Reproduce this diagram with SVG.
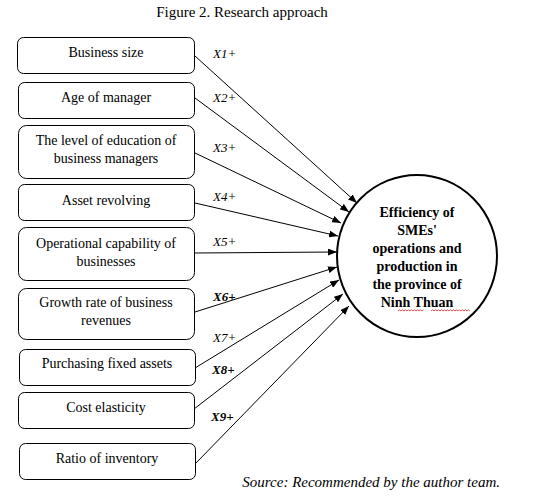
<svg xmlns="http://www.w3.org/2000/svg" width="546" height="502" viewBox="0 0 546 502">
<defs>
<marker id="ah" markerWidth="9" markerHeight="7" refX="9" refY="3.5" orient="auto" markerUnits="userSpaceOnUse">
<path d="M0,0 L9,3.5 L0,7 Z" fill="#000"/>
</marker>
<style>
text{font-family:"Liberation Serif","Times New Roman",serif;fill:#000}
.t{font-size:14px;text-anchor:middle}
.box{fill:#fff;stroke:#000;stroke-width:1}
.lbl{font-size:13px;font-style:italic}
.b{font-weight:bold}
.c{font-size:14px;font-weight:bold;text-anchor:middle}
.con line{stroke:#000;stroke-width:1;marker-end:url(#ah)}
.sq{fill:none;stroke:#e02020;stroke-width:0.8}
</style>
</defs>
<rect width="546" height="502" fill="#fff"/>
<text x="242" y="17" font-size="15" text-anchor="middle">Figure 2. Research approach</text>

<g class="con" id="connectors">
<line x1="195" y1="56" x2="357" y2="203"/>
<line x1="195" y1="98" x2="349" y2="212"/>
<line x1="195" y1="153" x2="341" y2="223"/>
<line x1="195" y1="203" x2="338" y2="236"/>
<line x1="195" y1="253" x2="337" y2="252"/>
<line x1="195" y1="312" x2="337" y2="267"/>
<line x1="195" y1="368" x2="339" y2="280"/>
<line x1="194" y1="409" x2="343" y2="294"/>
<line x1="196" y1="463" x2="349" y2="306"/>
</g>

<g id="labels">
<text x="213" y="58" class="lbl">X1+</text>
<text x="213" y="102" class="lbl">X2+</text>
<text x="213" y="152" class="lbl">X3+</text>
<text x="213" y="201" class="lbl">X4+</text>
<text x="213" y="246" class="lbl">X5+</text>
<text x="213" y="301" class="lbl b">X6+</text>
<text x="213" y="342" class="lbl">X7+</text>
<text x="212" y="374" class="lbl b">X8+</text>
<text x="211" y="421" class="lbl b">X9+</text>
</g>

<g id="n1"><rect class="box" x="17.5" y="37.5" width="177" height="36" rx="6"/><text class="t" x="106" y="57">Business size</text></g>
<g id="n2"><rect class="box" x="18.5" y="82.5" width="176" height="36" rx="6"/><text class="t" x="106" y="102">Age of manager</text></g>
<g id="n3"><rect class="box" x="18.5" y="125.5" width="176" height="53" rx="8"/><text class="t" x="106" y="145">The level of education of</text><text class="t" x="106" y="163">business managers</text></g>
<g id="n4"><rect class="box" x="18.5" y="184.5" width="176" height="36" rx="6"/><text class="t" x="106" y="205">Asset revolving</text></g>
<g id="n5"><rect class="box" x="18.5" y="227.5" width="176" height="53" rx="8"/><text class="t" x="106" y="248">Operational capability of</text><text class="t" x="106" y="266">businesses</text></g>
<g id="n6"><rect class="box" x="18.5" y="288.5" width="176" height="51" rx="8"/><text class="t" x="106" y="307">Growth rate of business</text><text class="t" x="106" y="325">revenues</text></g>
<g id="n7"><rect class="box" x="19.5" y="349.5" width="176" height="36" rx="6"/><text class="t" x="107" y="368">Purchasing fixed assets</text></g>
<g id="n8"><rect class="box" x="18.5" y="392.5" width="176" height="36" rx="6"/><text class="t" x="106" y="412">Cost elasticity</text></g>
<g id="n9"><rect class="box" x="19.5" y="443.5" width="176" height="36" rx="6"/><text class="t" x="107" y="463">Ratio of inventory</text></g>

<g id="target">
<ellipse cx="417" cy="256" rx="80" ry="81" fill="#fff" stroke="#000" stroke-width="2"/>
<text class="c" x="417" y="217">Efficiency of</text>
<text class="c" x="417" y="235">SMEs'</text>
<text class="c" x="417" y="253">operations and</text>
<text class="c" x="417" y="271">production in</text>
<text class="c" x="417" y="289">the province of</text>
<text class="c" x="417" y="307">Ninh Thuan</text>
<path class="sq" d="M398,311 l1.5,-1.2 l1.5,1.2 l1.5,-1.2 l1.5,1.2 l1.5,-1.2 l1.5,1.2 l1.5,-1.2 l1.5,1.2 l1.5,-1.2 l1.5,1.2 l1.5,-1.2 l1.5,1.2 l1.5,-1.2 l1.5,1.2 l1.5,-1.2 l1.5,1.2 l1.5,-1.2"/>
<path class="sq" d="M431,311 l1.5,-1.2 l1.5,1.2 l1.5,-1.2 l1.5,1.2 l1.5,-1.2 l1.5,1.2 l1.5,-1.2 l1.5,1.2 l1.5,-1.2 l1.5,1.2 l1.5,-1.2 l1.5,1.2 l1.5,-1.2 l1.5,1.2 l1.5,-1.2 l1.5,1.2 l1.5,-1.2 l1.5,1.2 l1.5,-1.2 l1.5,1.2 l1.5,-1.2 l1.5,1.2 l1.5,-1.2 l1.5,1.2 l1.5,-1.2 l1.5,1.2"/>
</g>

<text x="500" y="487" font-size="15" font-style="italic" text-anchor="end">Source: Recommended by the author team.</text>
</svg>
